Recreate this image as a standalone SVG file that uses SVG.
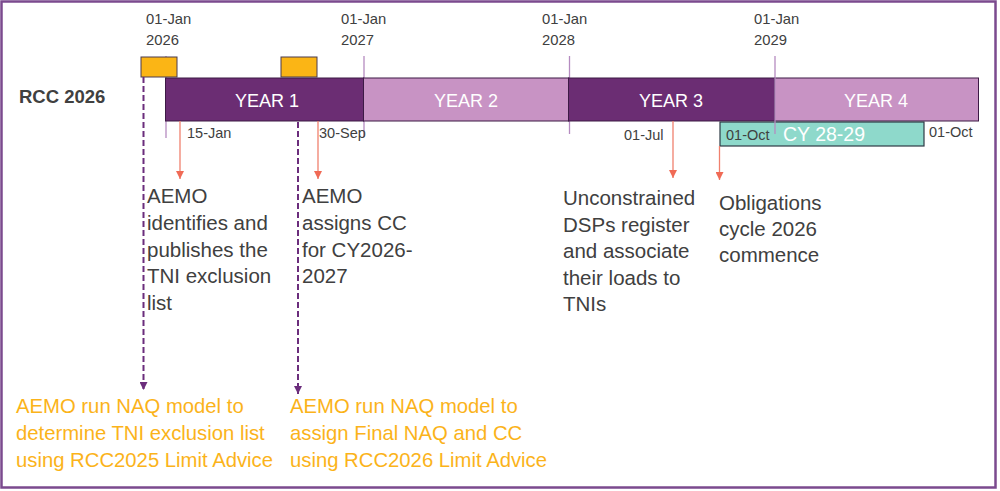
<svg xmlns="http://www.w3.org/2000/svg" width="1000" height="491" viewBox="0 0 1000 491">
<style>
.t{font-family:"Liberation Sans",Arial,sans-serif;fill:#404040}
.d{font-size:14.5px}
.b{font-size:20.5px}
.o{font-family:"Liberation Sans",Arial,sans-serif;fill:#FBB31A;font-size:20.3px}
.yr{font-family:"Liberation Sans",Arial,sans-serif;fill:#fff;font-size:18px;text-anchor:middle}
.dk{fill:#6B2D73;stroke:#3D1A45;stroke-width:1}
.lt{fill:#C893C4;stroke:#3D1A45;stroke-width:1}
.tick{stroke:#B58BC0;stroke-width:1.3}
.red{stroke:#F0806E;stroke-width:1.3;fill:none}
.dash{stroke:#6B2D7C;stroke-width:2;stroke-dasharray:6 3;fill:none}
.ob{fill:#FBB515;stroke:#4A3A50;stroke-width:1}
</style>
<defs>
<marker id="ra" viewBox="0 0 10 10" refX="10" refY="5" markerWidth="8" markerHeight="8" markerUnits="userSpaceOnUse" orient="auto"><path d="M0,0 L10,5 L0,10 z" fill="#F06A55"/></marker>
<marker id="pa" viewBox="0 0 10 10" refX="10" refY="5" markerWidth="8" markerHeight="8" markerUnits="userSpaceOnUse" orient="auto"><path d="M0,0 L10,5 L0,10 z" fill="#6B2D7C"/></marker>
</defs>
<rect x="0" y="0" width="1000" height="491" fill="#fff"/>
<rect x="1.5" y="1.5" width="994" height="486" fill="none" stroke="#7B4A8E" stroke-width="2.5"/>

<g id="title"><text class="t" x="19" y="103" style="font-size:18.5px;font-weight:bold">RCC 2026</text></g>

<g id="ticks">
<line class="tick" x1="166" y1="56" x2="166" y2="138"/>
<line class="tick" x1="364" y1="56" x2="364" y2="137"/>
<line class="tick" x1="569.5" y1="56" x2="569.5" y2="134"/>
</g>

<g id="dates">
<text class="t" style="font-size:14.8px" x="146" y="24">01-Jan</text>
<text class="t" style="font-size:14.8px" x="146" y="45">2026</text>
<text class="t" style="font-size:14.8px" x="341" y="24">01-Jan</text>
<text class="t" style="font-size:14.8px" x="341" y="45">2027</text>
<text class="t" style="font-size:14.8px" x="542" y="24">01-Jan</text>
<text class="t" style="font-size:14.8px" x="542" y="45">2028</text>
<text class="t" style="font-size:14.8px" x="754" y="24">01-Jan</text>
<text class="t" style="font-size:14.8px" x="754" y="45">2029</text>
</g>

<g id="orange-boxes">
<rect class="ob" x="141" y="57" width="36" height="20"/>
<rect class="ob" x="281" y="57" width="36" height="20"/>
</g>

<g id="year1"><rect class="dk" x="165.5" y="78" width="198" height="43"/><text class="yr" x="267" y="107">YEAR 1</text></g>
<g id="year2"><rect class="lt" x="363.5" y="78" width="205" height="43"/><text class="yr" x="466" y="107">YEAR 2</text></g>
<g id="year3"><rect class="dk" x="568.5" y="78" width="206" height="43"/><text class="yr" x="671" y="107">YEAR 3</text></g>
<g id="year4"><rect class="lt" x="774.5" y="78" width="204" height="43"/><text class="yr" x="876" y="107">YEAR 4</text></g>

<g id="cy">
<rect x="720" y="122" width="204" height="24" fill="#8ED9CB" stroke="#2E3A45" stroke-width="1.2"/>
<text class="t d" x="726" y="140">01-Oct</text>
<text x="783" y="141" style="font-family:'Liberation Sans',Arial,sans-serif;font-size:19.5px;fill:#fff">CY 28-29</text>
<text class="t d" x="929" y="137">01-Oct</text>
</g>
<line class="tick" x1="775" y1="56" x2="775" y2="134"/>

<g id="date-labels">
<text class="t d" x="187" y="138">15-Jan</text>
<text class="t d" x="319" y="138">30-Sep</text>
<text class="t d" x="624" y="140">01-Jul</text>
</g>

<g id="connectors">
<line class="red" x1="180" y1="121" x2="180" y2="179" marker-end="url(#ra)"/>
<line class="red" x1="318" y1="121" x2="318" y2="179" marker-end="url(#ra)"/>
<line class="red" x1="673" y1="121" x2="673" y2="178" marker-end="url(#ra)"/>
<line class="red" x1="719.5" y1="146" x2="719.5" y2="180" marker-end="url(#ra)"/>
<line class="dash" x1="143.5" y1="77" x2="143.5" y2="390" marker-end="url(#pa)"/>
<line class="dash" x1="298" y1="122" x2="298" y2="394" marker-end="url(#pa)"/>
</g>

<g id="note1"><text class="t b"><tspan x="147" y="203">AEMO</tspan><tspan x="147" y="230">identifies and</tspan><tspan x="147" y="257">publishes the</tspan><tspan x="147" y="283">TNI exclusion</tspan><tspan x="147" y="310">list</tspan></text></g>
<g id="note2"><text class="t b"><tspan x="302" y="203">AEMO</tspan><tspan x="302" y="230">assigns CC</tspan><tspan x="302" y="257">for CY2026-</tspan><tspan x="302" y="283">2027</tspan></text></g>
<g id="note3"><text class="t b"><tspan x="563" y="205">Unconstrained</tspan><tspan x="563" y="232">DSPs register</tspan><tspan x="563" y="258">and associate</tspan><tspan x="563" y="285">their loads to</tspan><tspan x="563" y="311">TNIs</tspan></text></g>
<g id="note4"><text class="t b"><tspan x="719" y="210">Obligations</tspan><tspan x="719" y="236">cycle 2026</tspan><tspan x="719" y="262">commence</tspan></text></g>

<g id="note5"><text class="o"><tspan x="16" y="413">AEMO run NAQ model to</tspan><tspan x="16" y="440">determine TNI exclusion list</tspan><tspan x="16" y="467">using RCC2025 Limit Advice</tspan></text></g>
<g id="note6"><text class="o"><tspan x="290" y="413">AEMO run NAQ model to</tspan><tspan x="290" y="440">assign Final NAQ and CC</tspan><tspan x="290" y="467">using RCC2026 Limit Advice</tspan></text></g>
</svg>
